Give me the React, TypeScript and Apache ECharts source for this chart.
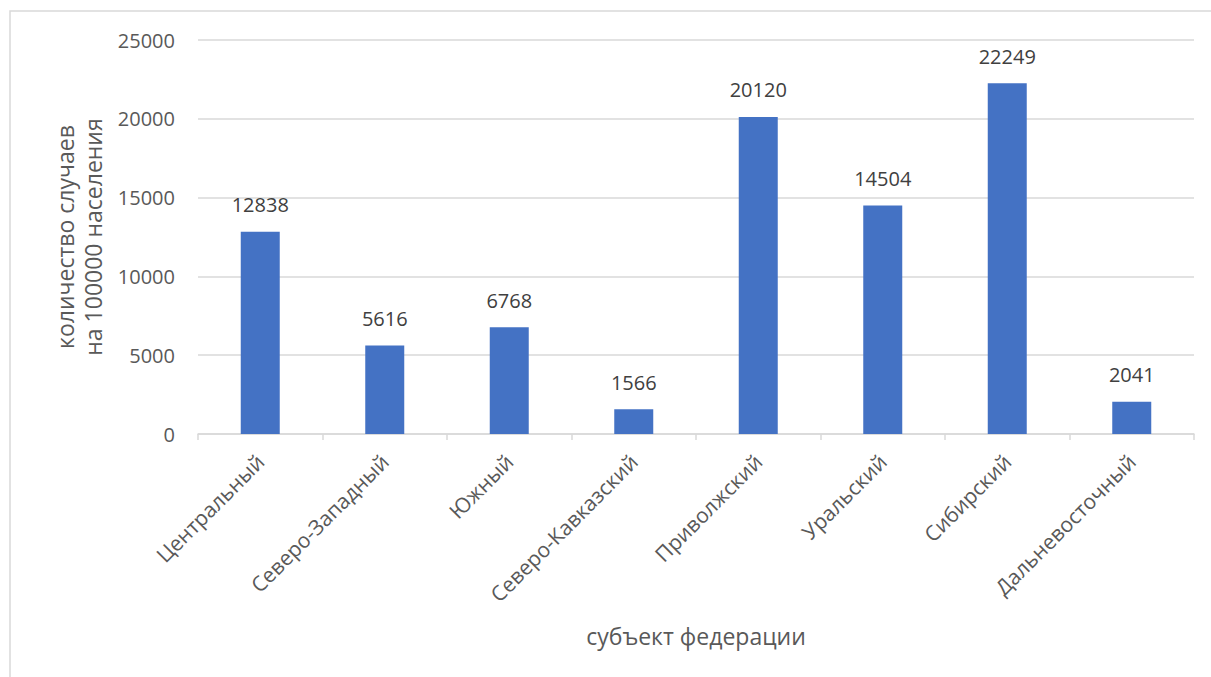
import React, { useEffect, useRef } from "react";
import * as echarts from "echarts";

const categories = [
  "Центральный",
  "Северо-Западный",
  "Южный",
  "Северо-Кавказский",
  "Приволжский",
  "Уральский",
  "Сибирский",
  "Дальневосточный",
];
const values = [12838, 5616, 6768, 1566, 20120, 14504, 22249, 2041];
const yTitle = "количество случаев\nна 100000 населения";
const xTitle = "субъект федерации";

const FONT = "'Open Sans', 'Noto Sans', sans-serif";

export default function App() {
  const ref = useRef<HTMLDivElement>(null);
  useEffect(() => {
    if (!ref.current) return;
    const chart = echarts.init(ref.current, null, { renderer: "svg" });
    chart.setOption({
      animation: false,
      backgroundColor: "#ffffff",
      textStyle: { fontFamily: FONT },
      graphic: [
        {
          type: "rect",
          shape: { x: 10, y: 11, width: 1230, height: 700 },
          style: { fill: "none", stroke: "#d9d9d9", lineWidth: 1.5 },
          silent: true,
        },
      ],
      grid: { left: 198, right: 17, top: 40, bottom: 243 },
      xAxis: {
        type: "category",
        data: categories,
        name: xTitle,
        nameLocation: "middle",
        nameGap: 190,
        nameTextStyle: { fontSize: 23, color: "#595959", fontFamily: FONT },
        axisLine: { lineStyle: { color: "#d9d9d9", width: 1.5 } },
        axisTick: { show: true, alignWithLabel: false, length: 6, lineStyle: { color: "#d9d9d9", width: 1.5 } },
        axisLabel: { rotate: 45, fontSize: 21, color: "#595959", margin: 24, interval: 0, fontFamily: FONT },
      },
      yAxis: {
        type: "value",
        min: 0,
        max: 25000,
        interval: 5000,
        name: yTitle,
        nameLocation: "middle",
        nameRotate: 90,
        nameGap: 91,
        nameTextStyle: { fontSize: 23, color: "#595959", lineHeight: 28, fontFamily: FONT },
        axisLine: { show: false },
        axisTick: { show: false },
        axisLabel: {
          fontSize: 20,
          color: "#595959",
          margin: 23,
          fontFamily: FONT,
          formatter: (v: number) => String(v),
        },
        splitLine: { lineStyle: { color: "#d9d9d9", width: 1.5 } },
      },
      series: [
        {
          type: "bar",
          data: values,
          barWidth: 39,
          itemStyle: { color: "#4472C4" },
          label: {
            show: true,
            position: "top",
            distance: 17,
            fontSize: 20,
            color: "#404040",
            fontFamily: FONT,
          },
        },
      ],
    });
    return () => chart.dispose();
  }, []);
  return (
    <div
      ref={ref}
      style={{ position: "absolute", left: 0, top: 0, width: 1211, height: 677 }}
    />
  );
}
